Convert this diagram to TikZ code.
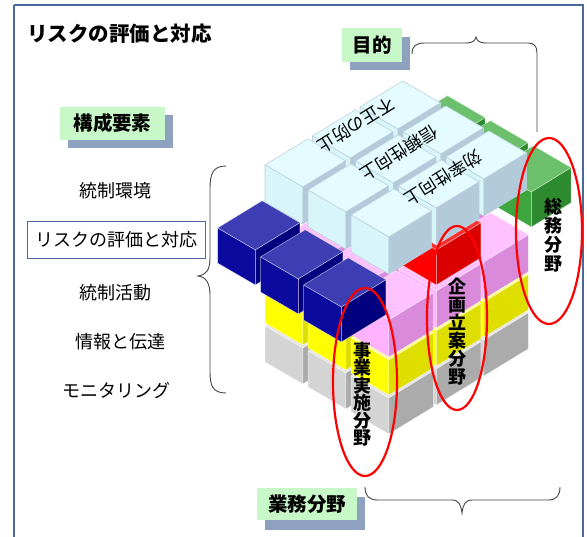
\documentclass[tikz,border=0pt]{standalone}
\usepackage{fontspec}
\newfontfamily\jp{Noto Sans CJK JP}
\definecolor{grayT}{RGB}{230,230,230}
\definecolor{grayL}{RGB}{212,212,212}
\definecolor{grayR}{RGB}{171,171,171}
\definecolor{yelT}{RGB}{255,255,150}
\definecolor{yelL}{RGB}{255,255,0}
\definecolor{yelR}{RGB}{222,222,0}
\definecolor{pinkT}{RGB}{255,194,255}
\definecolor{pinkL}{RGB}{255,178,255}
\definecolor{pinkR}{RGB}{218,138,218}
\definecolor{redT}{RGB}{255,48,48}
\definecolor{redL}{RGB}{255,0,0}
\definecolor{redR}{RGB}{218,0,0}
\definecolor{grnT}{RGB}{108,192,108}
\definecolor{grnL}{RGB}{61,166,61}
\definecolor{grnR}{RGB}{46,138,46}
\definecolor{cyT}{RGB}{228,252,255}
\definecolor{cyL}{RGB}{216,246,250}
\definecolor{cyR}{RGB}{179,202,219}
\definecolor{cyE}{RGB}{190,210,222}
\definecolor{bluT}{RGB}{62,62,180}
\definecolor{bluL}{RGB}{10,10,158}
\definecolor{bluR}{RGB}{0,0,127}
\definecolor{frameC}{RGB}{74,104,152}
\definecolor{lblG}{RGB}{200,248,200}
\definecolor{lblS}{RGB}{142,162,192}
\definecolor{braceC}{RGB}{70,70,70}
\newcommand\blk[8]{%
  \pgfmathsetmacro\blkU{#1+#5}%
  \pgfmathsetmacro\blkV{#2+0.88}%
  \filldraw[blkedge,fill=#6] (#1,#4,#2) -- (\blkU,#4,#2) -- (\blkU,#4,\blkV) -- (#1,#4,\blkV) -- cycle;
  \filldraw[blkedge,fill=#7] (#1,#3,#2) -- (#1,#4,#2) -- (#1,#4,\blkV) -- (#1,#3,\blkV) -- cycle;
  \filldraw[blkedge,fill=#8] (#1,#3,\blkV) -- (#1,#4,\blkV) -- (\blkU,#4,\blkV) -- (\blkU,#3,\blkV) -- cycle;
}
\tikzset{
  blkedge/.style={draw=white,draw opacity=0.6,line width=0.5pt,line join=round},
  cyedge/.style={blkedge/.style={draw=cyE,line width=0.6pt,line join=round}},
  listtxt/.style={font=\jp\fontsize{18}{20}\selectfont,inner sep=0pt},
  lblbox/.style={fill=lblG,inner sep=0pt,font=\jp\bfseries\fontsize{19.5}{21}\selectfont},
  ovalc/.style={draw=red,line width=2.2pt},
  bracec/.style={draw=braceC,line width=0.9pt},
  cytxt/.style={font=\jp\fontsize{17.5}{18}\selectfont,inner sep=0pt,rotate=212},
  vtxt/.style={align=center,inner sep=0pt}
}
\begin{document}
\begin{tikzpicture}[x=1pt,y=-1pt]
\useasboundingbox (0,0) rectangle (587,537);
\fill[white] (0,0) rectangle (587,537);
% frame
\draw[frameC,line width=2.4pt] (14,5) -- (583,5) -- (583,545) (14,5) -- (14,545);
% cube
\begin{scope}[shift={(265,362)},x={(47.5pt,29pt)},y={(0pt,1pt)},z={(43pt,-25pt)}]
  \foreach \u in {2,1,0}{\foreach \v in {0,1,2}{\blk{\u}{\v}{0}{36}{0.94}{grayT}{grayL}{grayR}}}
  \foreach \u in {2,1,0}{\foreach \v in {0,1,2}{\blk{\u}{\v}{39}{74}{0.94}{yelT}{yelL}{yelR}}}
  \foreach \u in {2,1,0}{\foreach \v in {0,1,2}{\blk{\u}{\v}{77}{114}{0.94}{pinkT}{pinkL}{pinkR}}}
  \foreach \v in {0,1,2}{\blk{3}{\v}{120}{155}{0.84}{grnT}{grnL}{grnR}}
  \foreach \v in {0,1,2}{\blk{1}{\v}{120}{155}{0.94}{redT}{redL}{redR}}
  \begin{scope}[cyedge]
  \foreach \u in {2,1,0}{\foreach \v in {0,1,2}{\blk{\u}{\v}{160}{197}{0.9}{cyT}{cyL}{cyR}}}
  \end{scope}
  \blk{-1}{0}{128}{163}{0.94}{bluT}{bluL}{bluR}
  \blk{-1}{1}{124}{159}{0.94}{bluT}{bluL}{bluR}
  \blk{-1}{2}{121}{156}{0.94}{bluT}{bluL}{bluR}
\end{scope}
% texts on top
\node[cytxt] (fusei) at (356,125) {不正の防止};
\node[cytxt] (shinrai) at (399,153) {信頼性向上};
\node[cytxt] (koritsu) at (443,178) {効率性向上};
% ovals and vertical labels
\draw[ovalc] (365,382) ellipse [x radius=32,y radius=94];
\draw[ovalc] (457,318) ellipse [x radius=30,y radius=92];
\draw[ovalc] (549,231) ellipse [x radius=33,y radius=93];
\node[vtxt,font=\jp\bfseries\fontsize{18}{17.5}\selectfont] (jigyo) at (362,394) {事\\業\\実\\施\\分\\野};
\node[vtxt,font=\jp\bfseries\fontsize{18}{18}\selectfont] (kikaku) at (457,332) {企\\画\\立\\案\\分\\野};
\node[vtxt,font=\jp\bfseries\fontsize{18}{19}\selectfont] (somu) at (553,235) {総\\務\\分\\野};
% title
\node[anchor=west,inner sep=0pt,font=\jp\bfseries\fontsize{20.5}{22}\selectfont] (title) at (27,34) {リスクの評価と対応};
% labels
\fill[lblS] (68,115) rectangle (173,148);
\node[lblbox,minimum width=105pt,minimum height=33pt] (kosei) at (112.5,123.5) {構成要素};
\fill[lblS] (350,37) rectangle (410,70);
\node[lblbox,minimum width=60pt,minimum height=34pt] (mokuteki) at (372,45) {目的};
\fill[lblS] (265,497) rectangle (365,530);
\node[lblbox,minimum width=100pt,minimum height=32pt] (gyomu) at (307,504) {業務分野};
% list
\node[listtxt] (l1) at (115,191) {統制環境};
\node[draw=frameC,line width=1.8pt,minimum width=178pt,minimum height=37pt,inner sep=0pt,font=\jp\fontsize{18}{20}\selectfont] (l2) at (116.5,240) {リスクの評価と対応};
\node[listtxt] (l3) at (115,293) {統制活動};
\node[listtxt] (l4) at (120,342) {情報と伝達};
\node[listtxt] (l5) at (116,391) {モニタリング};
% braces
\draw[bracec] (226,166) .. controls (213,166) and (210,174) .. (210,188) -- (210,258) .. controls (210,270) and (206,275) .. (198,276) .. controls (206,277) and (210,283) .. (210,295) -- (210,372) .. controls (210,386) and (213,393) .. (226,393);
\draw[bracec] (412,54) .. controls (412,46) and (416,43) .. (425,43) -- (466,43) .. controls (472,43) and (475,41) .. (476,37) .. controls (477,41) and (480,43) .. (486,43) -- (528,43) .. controls (534,43) and (537,46) .. (537,53) -- (537,132);
\draw[bracec] (365,487) .. controls (365,496) and (369,500) .. (378,500) -- (452,500) .. controls (459,500) and (461,505) .. (462,513) .. controls (463,505) and (465,500) .. (472,500) -- (548,500) .. controls (556,500) and (560,496) .. (560,487);
\end{tikzpicture}
\end{document}
